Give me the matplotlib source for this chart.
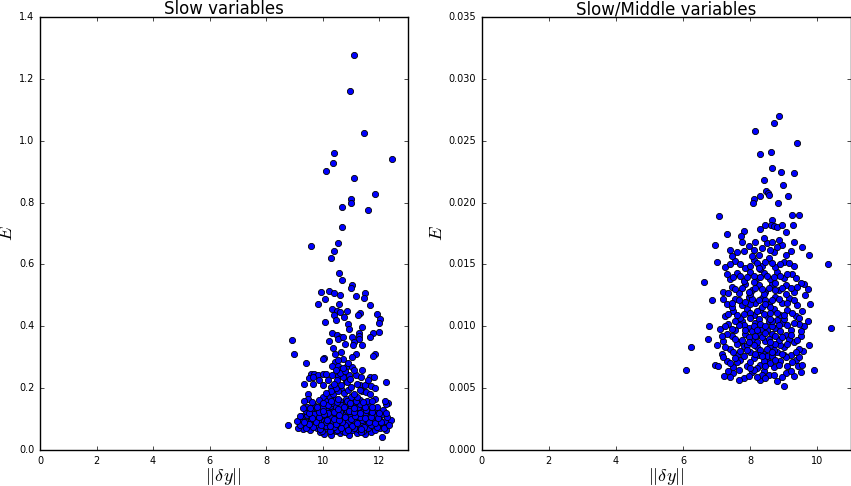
import numpy as np
import matplotlib
matplotlib.use('Agg')
import matplotlib.pyplot as plt

# left panel: ||dy|| vs E for the slow variables (sparse upper points)
slow_sparse = [
    (11.12, 1.277), (10.95, 1.161), (11.44, 1.025), (10.38, 0.961), (10.35, 0.927),
    (10.13, 0.902), (12.45, 0.941), (11.11, 0.878), (11.85, 0.829), (11.01, 0.811),
    (11.01, 0.799), (10.67, 0.785), (11.61, 0.777), (10.68, 0.721), (9.58, 0.660),
    (10.55, 0.668), (10.40, 0.643), (10.29, 0.622), (10.58, 0.572), (10.69, 0.551),
    (11.02, 0.535), (10.99, 0.525), (9.95, 0.512), (10.22, 0.515), (10.41, 0.508),
    (10.61, 0.502), (11.51, 0.508), (11.46, 0.492), (11.19, 0.497), (10.08, 0.487),
    (10.58, 0.473), (9.83, 0.471), (11.68, 0.468), (10.32, 0.455), (10.52, 0.450),
    (10.87, 0.448), (10.62, 0.447), (11.33, 0.442), (11.24, 0.436), (10.41, 0.435),
    (11.93, 0.440), (12.04, 0.425), (10.74, 0.429), (10.48, 0.420), (10.07, 0.414),
    (10.89, 0.408), (11.99, 0.412), (11.39, 0.397), (10.94, 0.391), (10.31, 0.380),
    (11.28, 0.378), (11.99, 0.382), (11.79, 0.377), (10.49, 0.371), (10.65, 0.364),
    (11.04, 0.364), (11.66, 0.366), (11.28, 0.369), (8.90, 0.356), (10.21, 0.353),
    (10.55, 0.359), (10.71, 0.364), (11.28, 0.360), (8.99, 0.311), (10.37, 0.331),
    (10.77, 0.343), (11.12, 0.348), (11.07, 0.338), (11.37, 0.340), (10.44, 0.312),
    (10.65, 0.317), (11.18, 0.309), (11.85, 0.309), (11.78, 0.304), (10.05, 0.298),
    (9.99, 0.293), (10.70, 0.293), (11.05, 0.300), (9.42, 0.280), (10.44, 0.285),
    (10.54, 0.273), (10.84, 0.273), (11.04, 0.269), (10.33, 0.272), (11.37, 0.259),
    (10.64, 0.262), (10.79, 0.253), (9.58, 0.245), (9.70, 0.246), (9.84, 0.244),
    (9.99, 0.246), (10.13, 0.245), (10.31, 0.244), (9.52, 0.232), (9.66, 0.235),
    (10.55, 0.240), (10.93, 0.244), (11.19, 0.242), (11.67, 0.237), (11.81, 0.237),
    (11.35, 0.237), (9.85, 0.225), (10.17, 0.225), (10.81, 0.224), (12.23, 0.220),
    (9.32, 0.214), (9.66, 0.213), (10.00, 0.210), (10.29, 0.205), (11.72, 0.208),
    (11.31, 0.210), (11.83, 0.200), (10.64, 0.196), (9.48, 0.181), (11.40, 0.190),
    (11.54, 0.188), (11.66, 0.180), (11.85, 0.166), (9.46, 0.165), (12.29, 0.153),
    (12.24, 0.150), (10.00, 0.173), (11.05, 0.175),
]

# left panel: dense cluster near the bottom
slow_dense = [
    (10.05, 0.052), (10.28, 0.047), (10.62, 0.055), (10.91, 0.049), (11.22, 0.056),
    (11.48, 0.051), (12.08, 0.043), (9.90, 0.058), (10.45, 0.060), (11.70, 0.058),
    (9.30, 0.068), (9.55, 0.064), (9.78, 0.070), (9.98, 0.063), (10.15, 0.072),
    (10.34, 0.066), (10.52, 0.070), (10.70, 0.063), (10.88, 0.071), (11.05, 0.065),
    (11.25, 0.069), (11.42, 0.062), (11.60, 0.072), (11.85, 0.066), (12.02, 0.070),
    (12.25, 0.064), (9.12, 0.072), (10.60, 0.075), (11.15, 0.076),
    (8.78, 0.081), (9.20, 0.082), (9.42, 0.078), (9.65, 0.085), (9.85, 0.079),
    (10.02, 0.086), (10.22, 0.080), (10.40, 0.087), (10.58, 0.082), (10.76, 0.088),
    (10.95, 0.079), (11.12, 0.086), (11.30, 0.081), (11.52, 0.087), (11.72, 0.080),
    (11.95, 0.085), (12.15, 0.079), (12.32, 0.088), (9.55, 0.090), (10.30, 0.090),
    (11.40, 0.090),
    (9.08, 0.095), (9.30, 0.098), (9.50, 0.094), (9.72, 0.100), (9.92, 0.096),
    (10.10, 0.102), (10.28, 0.095), (10.47, 0.101), (10.65, 0.097), (10.84, 0.103),
    (11.02, 0.094), (11.20, 0.100), (11.38, 0.096), (11.58, 0.102), (11.80, 0.095),
    (12.00, 0.100), (12.20, 0.094), (12.40, 0.098), (10.55, 0.105), (11.10, 0.105),
    (9.25, 0.110), (9.45, 0.114), (9.62, 0.108), (9.82, 0.116), (10.00, 0.110),
    (10.18, 0.117), (10.36, 0.109), (10.54, 0.115), (10.72, 0.110), (10.90, 0.118),
    (11.08, 0.112), (11.26, 0.117), (11.45, 0.109), (11.65, 0.115), (11.88, 0.110),
    (12.10, 0.116), (10.45, 0.120), (10.80, 0.120),
    (9.40, 0.125), (9.60, 0.130), (9.78, 0.124), (9.95, 0.132), (10.12, 0.126),
    (10.30, 0.133), (10.48, 0.127), (10.66, 0.134), (10.84, 0.125), (11.02, 0.131),
    (11.20, 0.126), (11.40, 0.133), (11.60, 0.127), (11.85, 0.132), (12.12, 0.128),
    (10.20, 0.136), (10.95, 0.137),
    (9.45, 0.140), (9.70, 0.145), (9.90, 0.139), (10.08, 0.146), (10.26, 0.141),
    (10.44, 0.148), (10.62, 0.140), (10.80, 0.147), (11.00, 0.142), (11.18, 0.149),
    (11.38, 0.141), (11.62, 0.146), (11.90, 0.140), (10.35, 0.152), (10.70, 0.153),
    (9.35, 0.158), (9.62, 0.155), (9.88, 0.162), (10.15, 0.157), (10.40, 0.165),
    (10.60, 0.158), (10.82, 0.166), (11.05, 0.160), (11.30, 0.163), (11.55, 0.157),
    (12.20, 0.158), (10.25, 0.170), (11.00, 0.172),
    (10.10, 0.078), (10.35, 0.093), (10.60, 0.088), (10.85, 0.094), (10.50, 0.064),
    (10.75, 0.076), (11.00, 0.085), (10.25, 0.107), (10.70, 0.113), (11.15, 0.092),
    (10.40, 0.075), (10.95, 0.108), (10.20, 0.121), (10.60, 0.123), (10.90, 0.090),
    (11.30, 0.106), (10.05, 0.094), (10.80, 0.082), (11.10, 0.072), (10.45, 0.138),
    (10.65, 0.146), (10.85, 0.160), (11.25, 0.140), (9.70, 0.118), (9.60, 0.099),
    (11.50, 0.120),
    (9.40, 0.072), (9.65, 0.075), (9.90, 0.068), (10.25, 0.062), (10.80, 0.058),
    (11.35, 0.058), (11.90, 0.075), (12.18, 0.070), (9.50, 0.085), (9.75, 0.092),
    (10.12, 0.090), (10.48, 0.083), (10.68, 0.092), (11.05, 0.078), (11.22, 0.088),
    (11.45, 0.075), (11.62, 0.090), (11.85, 0.088), (12.05, 0.092), (9.35, 0.090),
    (9.62, 0.104), (9.85, 0.107), (10.15, 0.098), (10.38, 0.101), (10.58, 0.098),
    (10.78, 0.108), (10.98, 0.099), (11.15, 0.111), (11.50, 0.103), (11.72, 0.108),
    (11.95, 0.104), (12.28, 0.108), (9.50, 0.120), (9.88, 0.122), (10.05, 0.118),
    (10.38, 0.122), (10.58, 0.112), (10.92, 0.127), (11.12, 0.122), (11.32, 0.119),
    (11.52, 0.129), (11.75, 0.122), (12.00, 0.121), (9.55, 0.136), (9.80, 0.140),
    (10.00, 0.138), (10.18, 0.146), (10.55, 0.133), (10.75, 0.139), (11.10, 0.135),
    (11.30, 0.150), (11.50, 0.138), (11.75, 0.140), (10.00, 0.152), (10.30, 0.160),
    (10.52, 0.155), (10.95, 0.152), (11.18, 0.158), (11.42, 0.154), (11.75, 0.160),
    (9.20, 0.110), (9.30, 0.135), (12.25, 0.120), (12.35, 0.080), (10.25, 0.077),
    (10.65, 0.071), (10.90, 0.064), (11.35, 0.067), (9.95, 0.081), (10.00, 0.125),
    (10.55, 0.165), (11.20, 0.170),
    (10.35, 0.180), (10.55, 0.190), (10.75, 0.185), (10.90, 0.195), (11.10, 0.180),
    (10.45, 0.200), (10.65, 0.210), (10.85, 0.220), (11.00, 0.205), (10.50, 0.225),
    (10.70, 0.235), (10.95, 0.230), (11.20, 0.215), (10.40, 0.215), (11.30, 0.195),
    (10.60, 0.250), (10.80, 0.255), (10.30, 0.190), (10.10, 0.185), (11.50, 0.210),
    (11.60, 0.225), (10.70, 0.265), (10.90, 0.280), (10.55, 0.290), (11.10, 0.260),
    (10.45, 0.260),
]

# right panel: slow/middle variables
mid_sparse = [
    (8.85, 0.02697), (8.72, 0.0264), (8.13, 0.0258), (9.39, 0.0248), (8.30, 0.0239),
    (8.61, 0.0241), (8.66, 0.0228), (8.93, 0.0225), (9.30, 0.0224), (8.42, 0.0218),
    (8.96, 0.0214), (8.46, 0.0209), (8.52, 0.0208), (8.55, 0.0206), (8.29, 0.0205),
    (9.11, 0.0205), (8.10, 0.0203), (8.08, 0.0200), (8.82, 0.0200), (7.08, 0.0189),
    (9.25, 0.0190), (9.46, 0.0190), (8.65, 0.0186), (8.43, 0.0182), (8.61, 0.0182),
    (8.72, 0.0181), (8.80, 0.0180), (8.95, 0.0182), (9.28, 0.0182), (8.29, 0.0179),
    (7.30, 0.0175), (7.81, 0.0177), (9.07, 0.0176), (7.71, 0.0173), (6.95, 0.0166),
    (9.54, 0.0164), (9.76, 0.0158), (10.32, 0.0150), (7.00, 0.0152), (7.39, 0.0162),
    (6.61, 0.0136), (6.87, 0.0121), (6.78, 0.0100), (6.74, 0.0090), (6.22, 0.0083),
    (6.08, 0.0065), (10.41, 0.0099), (9.91, 0.0065), (8.99, 0.0052), (7.22, 0.0060),
    (6.96, 0.0069), (7.00, 0.0085), (9.79, 0.0118), (9.61, 0.0134), (9.72, 0.0130),
    (9.63, 0.0125), (9.71, 0.0104), (9.61, 0.0100), (9.75, 0.0085), (9.58, 0.0080),
    (9.43, 0.0068), (9.52, 0.0063),
]

mid_dense = [
    (7.50, 0.0062), (7.80, 0.0058), (8.05, 0.0063), (8.30, 0.0057), (8.55, 0.0061),
    (8.80, 0.0056), (9.05, 0.0062), (9.30, 0.0060), (7.65, 0.0065), (8.40, 0.0064),
    (7.05, 0.0068), (7.30, 0.0072), (7.50, 0.0067), (7.70, 0.0073), (7.90, 0.0068),
    (8.10, 0.0074), (8.30, 0.0069), (8.50, 0.0073), (8.70, 0.0067), (8.90, 0.0072),
    (9.10, 0.0068), (9.35, 0.0073), (9.55, 0.0069), (8.20, 0.0066), (8.60, 0.0070),
    (8.00, 0.0071),
    (7.15, 0.0078), (7.40, 0.0082), (7.60, 0.0077), (7.80, 0.0084), (8.00, 0.0079),
    (8.20, 0.0083), (8.40, 0.0078), (8.60, 0.0084), (8.80, 0.0079), (9.00, 0.0083),
    (9.20, 0.0077), (9.45, 0.0082), (7.70, 0.0080), (8.30, 0.0081), (8.90, 0.0085),
    (8.50, 0.0076),
    (7.20, 0.0088), (7.45, 0.0092), (7.65, 0.0087), (7.85, 0.0094), (8.05, 0.0089),
    (8.25, 0.0093), (8.45, 0.0088), (8.65, 0.0094), (8.85, 0.0089), (9.05, 0.0093),
    (9.30, 0.0087), (9.50, 0.0092), (7.95, 0.0091), (8.55, 0.0090), (9.15, 0.0090),
    (7.10, 0.0098), (7.35, 0.0102), (7.55, 0.0097), (7.75, 0.0104), (7.95, 0.0099),
    (8.15, 0.0103), (8.35, 0.0098), (8.55, 0.0104), (8.75, 0.0099), (8.95, 0.0103),
    (9.20, 0.0097), (9.45, 0.0102), (8.05, 0.0096), (8.65, 0.0100), (9.00, 0.0106),
    (7.25, 0.0108), (7.50, 0.0112), (7.70, 0.0107), (7.90, 0.0114), (8.10, 0.0109),
    (8.30, 0.0113), (8.50, 0.0108), (8.70, 0.0114), (8.90, 0.0109), (9.10, 0.0113),
    (9.35, 0.0108), (9.55, 0.0112), (8.00, 0.0111), (8.60, 0.0111),
    (7.30, 0.0118), (7.55, 0.0122), (7.75, 0.0117), (7.95, 0.0124), (8.15, 0.0119),
    (8.35, 0.0123), (8.55, 0.0118), (8.75, 0.0124), (8.95, 0.0119), (9.15, 0.0123),
    (9.40, 0.0117), (8.45, 0.0121), (9.05, 0.0126),
    (7.20, 0.0128), (7.45, 0.0132), (7.65, 0.0127), (7.85, 0.0134), (8.05, 0.0129),
    (8.25, 0.0133), (8.45, 0.0128), (8.65, 0.0134), (8.85, 0.0129), (9.05, 0.0133),
    (9.30, 0.0128), (9.50, 0.0135),
    (7.40, 0.0138), (7.60, 0.0143), (7.80, 0.0137), (8.00, 0.0144), (8.20, 0.0139),
    (8.40, 0.0143), (8.60, 0.0138), (8.80, 0.0144), (9.00, 0.0139), (9.25, 0.0142),
    (8.30, 0.0146),
    (7.25, 0.0148), (7.55, 0.0153), (7.85, 0.0147), (8.10, 0.0154), (8.35, 0.0149),
    (8.55, 0.0155), (8.75, 0.0148), (9.00, 0.0152), (9.30, 0.0149), (8.20, 0.0151),
    (7.60, 0.0160), (7.95, 0.0165), (8.25, 0.0158), (8.50, 0.0167), (8.70, 0.0160),
    (8.95, 0.0166), (9.20, 0.0161), (8.40, 0.0171), (8.85, 0.0170), (7.75, 0.0168),
    (8.10, 0.0065), (8.40, 0.0072), (8.70, 0.0081), (8.20, 0.0087), (8.50, 0.0097),
    (8.80, 0.0105), (8.25, 0.0106), (8.60, 0.0116), (8.40, 0.0126), (8.75, 0.0135),
    (7.90, 0.0085), (8.00, 0.0118), (9.00, 0.0077), (8.90, 0.0096), (7.80, 0.0101),
    (8.35, 0.0061),
    (7.40, 0.0059), (7.65, 0.0057), (7.95, 0.0060), (8.20, 0.0059), (8.45, 0.0058),
    (8.70, 0.0061), (8.95, 0.0059), (9.20, 0.0064), (7.35, 0.0064),
    (7.20, 0.0075), (7.40, 0.0070), (7.60, 0.0071), (7.80, 0.0076), (8.00, 0.0066),
    (8.25, 0.0077), (8.45, 0.0068), (8.65, 0.0076), (8.85, 0.0069), (9.05, 0.0075),
    (9.25, 0.0071), (9.45, 0.0075), (7.55, 0.0074), (8.75, 0.0073),
    (7.25, 0.0083), (7.50, 0.0079), (7.90, 0.0081), (8.10, 0.0085), (8.35, 0.0076),
    (8.50, 0.0082), (8.75, 0.0086), (8.95, 0.0078), (9.10, 0.0086), (9.35, 0.0079),
    (7.60, 0.0086), (8.15, 0.0078), (8.65, 0.0079),
    (7.30, 0.0094), (7.55, 0.0090), (7.75, 0.0089), (7.95, 0.0087), (8.15, 0.0092),
    (8.35, 0.0091), (8.60, 0.0087), (8.75, 0.0092), (8.95, 0.0091), (9.20, 0.0093),
    (9.40, 0.0089), (7.15, 0.0092), (8.45, 0.0095),
    (7.25, 0.0100), (7.45, 0.0098), (7.65, 0.0101), (7.85, 0.0097), (8.10, 0.0100),
    (8.30, 0.0102), (8.45, 0.0100), (8.65, 0.0104), (8.85, 0.0101), (9.10, 0.0101),
    (9.30, 0.0103), (7.55, 0.0104), (8.20, 0.0097), (9.50, 0.0096),
    (7.35, 0.0110), (7.60, 0.0109), (7.80, 0.0110), (8.00, 0.0107), (8.20, 0.0112),
    (8.40, 0.0110), (8.60, 0.0106), (8.80, 0.0111), (9.00, 0.0109), (9.25, 0.0111),
    (9.45, 0.0107), (7.45, 0.0116), (8.35, 0.0116),
    (7.45, 0.0119), (7.65, 0.0121), (7.85, 0.0120), (8.05, 0.0122), (8.25, 0.0121),
    (8.45, 0.0118), (8.65, 0.0121), (8.85, 0.0122), (9.10, 0.0119), (9.30, 0.0121),
    (7.20, 0.0122), (8.00, 0.0126),
    (7.35, 0.0127), (7.55, 0.0130), (7.75, 0.0131), (7.95, 0.0128), (8.15, 0.0131),
    (8.35, 0.0130), (8.55, 0.0131), (8.75, 0.0129), (8.95, 0.0131), (9.20, 0.0131),
    (9.40, 0.0132), (8.10, 0.0136),
    (7.50, 0.0140), (7.70, 0.0141), (7.90, 0.0140), (8.10, 0.0141), (8.30, 0.0140),
    (8.50, 0.0141), (8.70, 0.0140), (8.90, 0.0141), (9.10, 0.0142), (9.35, 0.0139),
    (7.30, 0.0142),
    (7.40, 0.0150), (7.70, 0.0150), (8.00, 0.0149), (8.25, 0.0147), (8.45, 0.0152),
    (8.65, 0.0151), (8.90, 0.0150), (9.15, 0.0151), (8.05, 0.0157),
    (7.80, 0.0161), (8.10, 0.0162), (8.35, 0.0163), (8.60, 0.0162), (8.80, 0.0164),
    (9.05, 0.0158), (7.45, 0.0157), (8.15, 0.0168), (8.65, 0.0168), (9.30, 0.0168),
]

slow = np.array(slow_sparse + slow_dense)
mid = np.array(mid_sparse + mid_dense)

plt.style.use('classic')
fig = plt.figure(figsize=(8.51, 4.86), dpi=100, facecolor='white')

ax1 = fig.add_axes([0.047, 0.074, 0.432, 0.891])
ax2 = fig.add_axes([0.566, 0.074, 0.434, 0.891])

for ax, d, title, ylim, yticks in [
        (ax1, slow, 'Slow variables', (0, 1.4), np.arange(0, 1.41, 0.2)),
        (ax2, mid, 'Slow/Middle variables', (0, 0.035), np.arange(0, 0.0351, 0.005))]:
    ax.scatter(d[:, 0], d[:, 1], s=20, c='b', edgecolors='k', linewidths=0.6)
    ax.set_title(title, fontsize=12, pad=2)
    ax.set_xlabel(r'$||\delta y||$', fontsize=13, labelpad=0)
    ax.set_ylabel(r'$E$', fontsize=13, labelpad=2)
    ax.set_ylim(*ylim)
    ax.set_yticks(yticks)
    ax.tick_params(labelsize=7, length=3)

ax1.set_xlim(0, 13)
ax1.set_xticks(np.arange(0, 13, 2))
ax1.yaxis.set_major_formatter(matplotlib.ticker.FormatStrFormatter('%.1f'))
ax2.set_xlim(0, 11)
ax2.set_xticks(np.arange(0, 11, 2))
ax2.yaxis.set_major_formatter(matplotlib.ticker.FormatStrFormatter('%.3f'))

fig.savefig('out.png', dpi=100, facecolor='white')
